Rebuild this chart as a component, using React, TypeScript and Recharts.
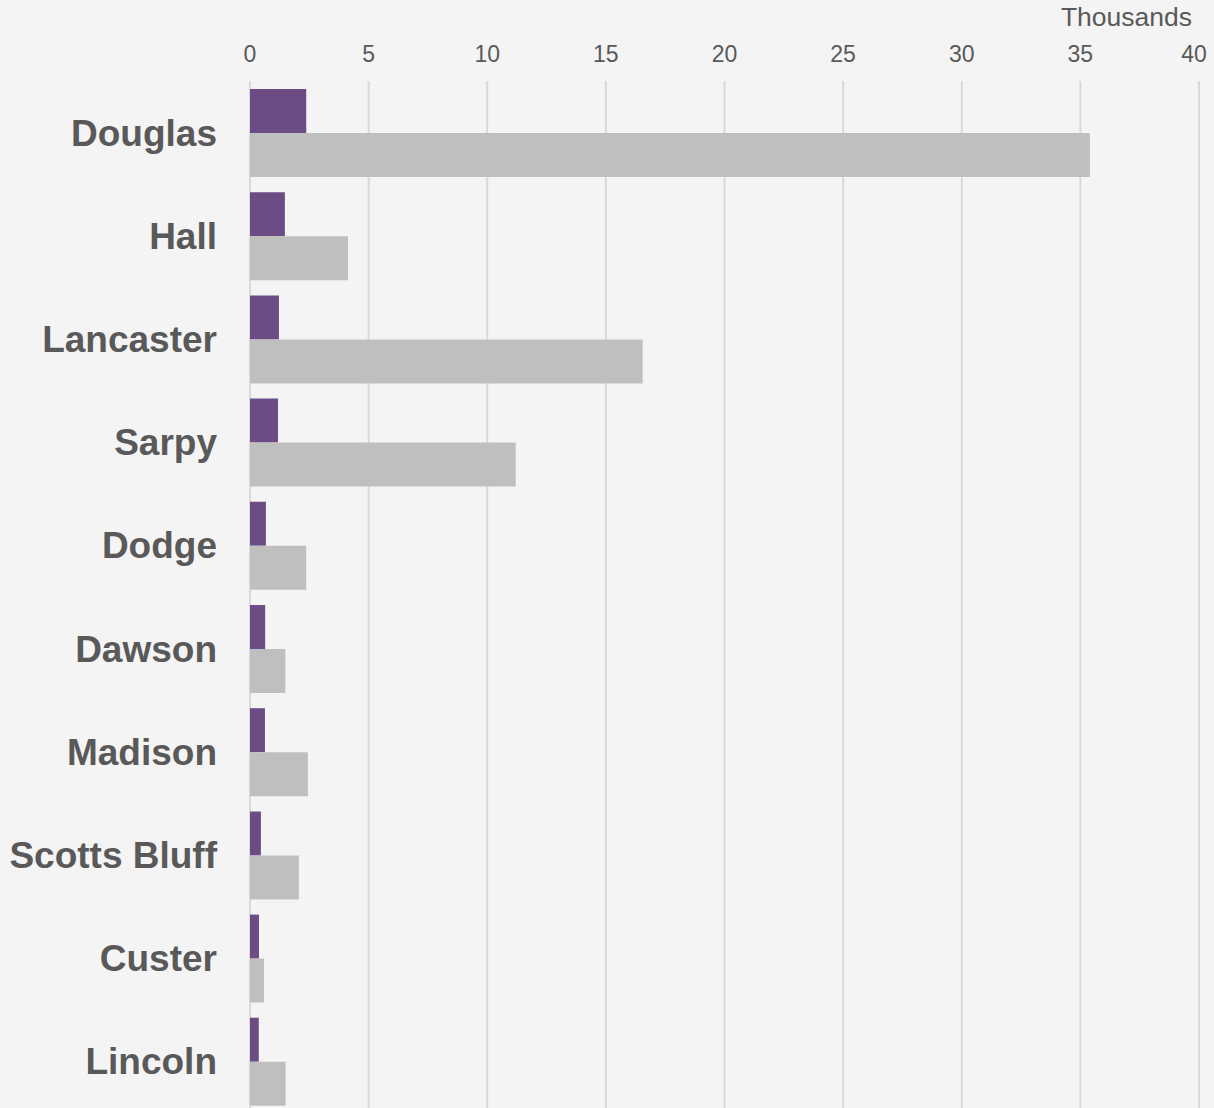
import React from 'react';
import { BarChart, Bar, XAxis, YAxis, CartesianGrid } from 'recharts';

// counties, top to bottom
const counties = ['Douglas', 'Hall', 'Lancaster', 'Sarpy', 'Dodge', 'Dawson', 'Madison', 'Scotts Bluff', 'Custer', 'Lincoln'];
// purple series (raw counts)
const seriesA = [2370, 1470, 1220, 1180, 670, 640, 630, 460, 380, 370];
// grey series (raw counts)
const seriesB = [35400, 4130, 16550, 11200, 2370, 1490, 2440, 2060, 590, 1500];
const xTicks = [0, 5000, 10000, 15000, 20000, 25000, 30000, 35000, 40000];

const chartData = counties.map((name, i) => ({ name, a: seriesA[i], b: seriesB[i] }));

const TEXT = '#595959';
const FONT = '"Liberation Sans", Arial, sans-serif';

const CountyTick = ({ x, y, payload }: any) => (
    <text x={x} y={y} dy={13} textAnchor="end" fill={TEXT} fontFamily={FONT} fontSize={37} fontWeight="bold">
        {payload.value}
    </text>
);

const ValueTick = ({ x, y, payload }: any) => (
    <text x={x} y={y} textAnchor="middle" fill={TEXT} fontFamily={FONT} fontSize={23}>
        {payload.value / 1000}
    </text>
);

export default function App() {
    return (
        <div style={{ position: 'absolute', top: 0, left: 0, width: 1214, height: 1108, overflow: 'hidden', background: '#F4F4F4' }}>
            <BarChart
                width={1214}
                height={1113}
                data={chartData}
                layout="vertical"
                margin={{ top: 0, right: 15, left: 0, bottom: 0 }}
                barCategoryGap={8}
                barGap={0}
            >
                <CartesianGrid horizontal={false} stroke="#D9D9D9" strokeWidth={2} />
                <XAxis
                    type="number"
                    orientation="top"
                    domain={[0, 40000]}
                    ticks={xTicks}
                    height={81}
                    axisLine={false}
                    tickLine={false}
                    tickSize={0}
                    tickMargin={19}
                    tick={<ValueTick />}
                    label={{ value: 'Thousands', position: 'insideTopRight', offset: 7, fill: TEXT, fontSize: 26.5, fontFamily: FONT }}
                />
                <YAxis
                    type="category"
                    dataKey="name"
                    width={250}
                    axisLine={false}
                    tickLine={false}
                    tickSize={0}
                    tickMargin={33}
                    interval={0}
                    tick={<CountyTick />}
                />
                <Bar dataKey="a" fill="#6B4C85" isAnimationActive={false} />
                <Bar dataKey="b" fill="#BFBFBF" isAnimationActive={false} />
            </BarChart>
        </div>
    );
}
